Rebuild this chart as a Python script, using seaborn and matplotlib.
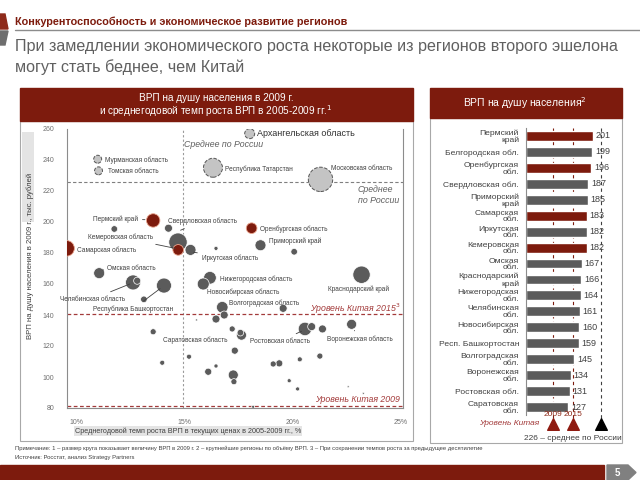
import matplotlib
matplotlib.use("Agg")
import matplotlib.pyplot as plt
import seaborn as sns
import pandas as pd
import numpy as np
from matplotlib.patches import Rectangle, Polygon

sns.set_theme(style="white")
plt.rcParams['font.family'] = ['Liberation Sans', 'DejaVu Sans']

# ---------------- data: bubble chart ----------------
regions = [
    "Мурманская", "Томская", "Архангельская", "Татарстан", "Московская",
    "Пермский", "р7", "р8", "Свердловская", "Кемеровская", "Иркутская", "р12",
    "Оренбургская", "Приморский", "р15", "Краснодарский", "Самарская", "Омская",
    "Челябинская", "р20", "Башкортостан", "р22", "Нижегородская", "Новосибирская",
    "Волгоградская", "р26", "р27", "р28", "р29", "р30", "р31", "р32", "р33", "р34",
    "р35", "р36", "р37", "Саратовская", "р38b", "р39", "р40", "р41", "р42", "р43",
    "р44", "р45", "р46", "р47", "р48", "Ростовская", "р50", "р51", "Воронежская",
]
growth = [
    10.96, 11.0, 18.0, 16.3, 21.28,
    13.53, 11.73, 14.24, 14.68, 14.69, 15.26, 16.44,
    18.09, 18.5, 20.06, 23.18, 9.52, 11.03,
    12.6, 12.79, 14.03, 13.1, 16.16, 15.85,
    16.73, 19.55, 16.44, 16.82, 15.54, 13.53, 13.95, 15.19, 16.08, 16.44,
    17.24, 17.27, 17.19, 17.62, 17.57, 17.31, 19.09, 19.37, 20.32, 21.25,
    19.83, 20.22, 22.56, 23.26, 18.16, 20.56, 20.87, 21.37, 22.72,
]
grp_per_capita = [
    240.5, 233, 257, 235, 227.5,
    201, 195.5, 196, 187, 182, 182, 183,
    196, 185, 180.8, 166, 183, 167,
    161, 162.1, 159, 150.1, 164, 160,
    145, 144.3, 137.4, 140.0, 136.8, 129.2, 109.2, 113.1, 103.4, 107.1,
    101.3, 97, 131, 127, 128.6, 117, 108.4, 108.8, 111.4, 113.5,
    97.6, 92.3, 93.7, 89.5, 80.8, 131, 132.5, 131, 134,
]
grp_total = [
    190, 190, 300, 1080, 1780,
    540, 130, 190, 1010, 340, 360, 50,
    340, 360, 130, 900, 730, 360,
    675, 150, 675, 130, 480, 430,
    400, 190, 190, 190, 12, 110, 75, 75, 150, 50,
    300, 110, 110, 300, 130, 150, 110, 150, 75, 110,
    50, 50, 12, 12, 27, 540, 190, 190, 300,
]
group = (["выше среднего"] * 5 + ["фокус", "прочие", "прочие", "прочие", "фокус", "прочие", "прочие",
          "фокус", "прочие", "прочие", "прочие", "фокус"] + ["прочие"] * 36)

russia_avg_gdp = 226
russia_avg_growth = 14.9
china_2009 = 81
china_2015 = 140.5

# ---------------- data: bar chart ----------------
bar_regions = [
    "Пермский\nкрай", "Белгородская обл.", "Оренбургская\nобл.", "Свердловская обл.",
    "Приморский\nкрай", "Самарская\nобл.", "Иркутская\nобл.", "Кемеровская\nобл.",
    "Омская\nобл.", "Краснодарский\nкрай", "Нижегородская\nобл.", "Челябинская\nобл.",
    "Новосибирская\nобл.", "Респ. Башкортостан", "Волгоградская\nобл.", "Воронежская\nобл.",
    "Ростовская обл.", "Саратовская\nобл.",
]
bar_values = [201, 199, 196, 187, 185, 183, 182, 182, 167, 166, 164, 161, 160, 159, 145, 134, 131, 127]
bar_group = ["фокус", "прочие", "фокус", "прочие", "прочие", "фокус", "прочие", "фокус",
             "прочие", "прочие", "прочие", "прочие", "прочие", "прочие", "прочие", "прочие",
             "прочие", "прочие"]

RED = "#7D1B0D"
DGRAY = "#5B5B5B"
LGRAY = "#C4C4C4"
TXT = "#404040"
CRED = "#A33A3A"

W, H = 640, 480
fig = plt.figure(figsize=(6.4, 4.8), dpi=100)


def box(x0, y0, x1, y1):
    return [x0 / W, 1 - y1 / H, (x1 - x0) / W, (y1 - y0) / H]


bg = fig.add_axes([0, 0, 1, 1], zorder=0)
bg.set_xlim(0, W)
bg.set_ylim(H, 0)
bg.axis("off")

# header
bg.add_patch(Polygon([(0, 14), (5, 14), (8, 29), (0, 29)], color="#8E2A1A"))
bg.add_patch(Polygon([(0, 31), (8, 31), (5, 45), (0, 45)], color="#6E6E6E"))
bg.text(15, 22, "Конкурентоспособность и экономическое развитие регионов", color=RED,
        fontsize=7.8, fontweight="bold", va="center", ha="left")
bg.plot([15, 640], [29.5, 29.5], color="#8C8C8C", lw=1)
bg.text(15, 47, "При замедлении экономического роста некоторые из регионов второго эшелона",
        color="#606060", fontsize=11.6, va="center", ha="left")
bg.text(15, 67, "могут стать беднее, чем Китай", color="#606060", fontsize=11.6, va="center", ha="left")

# panels
bg.add_patch(Rectangle((20, 121), 393, 320, facecolor="white", edgecolor="#A8A8A8", lw=0.8))
bg.add_patch(Rectangle((20, 88), 393, 33, color=RED))
bg.text(216, 98, "ВРП на душу населения в 2009 г.", color="white", fontsize=7.2, ha="center", va="center")
bg.text(216, 111, "и среднегодовой темп роста ВРП в 2005-2009 гг.$^1$", color="white", fontsize=7.2,
        ha="center", va="center")
bg.add_patch(Rectangle((430, 118), 192, 325, facecolor="white", edgecolor="#A8A8A8", lw=0.8))
bg.add_patch(Rectangle((430, 88), 192, 30, color=RED))
bg.text(525, 103, "ВРП на душу населения$^2$", color="white", fontsize=7.5, ha="center", va="center")

# y-label shading & axis titles
bg.add_patch(Rectangle((22, 132), 12, 90, color="#E4E4E4", lw=0))
bg.text(30, 256, "ВРП на душу населения в 2009 г., тыс. рублей", rotation=90, fontsize=5.6,
        color=TXT, ha="center", va="center")
bg.text(188, 431, "Среднегодовой темп роста ВРП в текущих ценах в 2005-2009 гг., %", fontsize=5.2,
        color=TXT, ha="center", va="center",
        bbox=dict(boxstyle="square,pad=0.15", facecolor="#E4E4E4", edgecolor="none"))
bg.text(622, 438, "226 – среднее по России", fontsize=6, color=TXT, ha="right", va="center")

# footer
bg.text(15, 448, "Примечание: 1 – размер круга показывает величину ВРП в 2009 г. 2 – крупнейшие регионы по объёму ВРП. "
        "3 – При сохранении темпов роста за предыдущее десятилетие", fontsize=4.2, color=TXT, va="center")
bg.text(15, 458, "Источник: Росстат, анализ Strategy Partners", fontsize=4.2, color=TXT, va="center")
bg.add_patch(Rectangle((0, 465), 604, 15, color=RED))
bg.add_patch(Polygon([(607, 465), (628, 465), (636, 472.5), (628, 480), (607, 480)], color="#808080"))
bg.text(617, 472.5, "5", color="white", fontsize=7, fontweight="bold", ha="center", va="center")

# ---------------- bubble chart ----------------
ax = fig.add_axes(box(67, 129, 403, 408), zorder=2)
ax.patch.set_alpha(0)
df = pd.DataFrame({"region": regions, "growth": growth, "gdp": grp_per_capita,
                   "grp": grp_total, "group": group})
df = df.sort_values("grp", ascending=False)
smax = 2000
style = {
    "прочие": dict(color=DGRAY, edgecolor="white", linewidth=0.5),
    "фокус": dict(color=RED, edgecolor="#E9A58E", linewidth=0.6),
    "выше среднего": dict(color=LGRAY, edgecolor="#555555", linewidth=0.7, linestyle="--"),
}
for g, kw in style.items():
    sub = df[df["group"] == g]
    sns.scatterplot(data=sub, x="growth", y="gdp", size="grp", sizes=(0, 0.1728 * smax),
                    size_norm=(0, smax), legend=False, ax=ax, zorder=3, **kw)

ax.set_xlim(9.54, 25.1)
ax.set_ylim(80, 260)
ax.set_xticks([10, 15, 20, 25])
ax.set_xticklabels(["10%", "15%", "20%", "25%"])
ax.set_yticks(np.arange(80, 261, 20))
ax.tick_params(axis="both", labelsize=5, colors="#707070", length=2, width=0.6, pad=6)
ax.tick_params(axis="y", pad=7)
ax.set_xlabel("")
ax.set_ylabel("")
for s in ["left", "bottom", "right"]:
    ax.spines[s].set_color("#8C8C8C")
    ax.spines[s].set_linewidth(0.8)
ax.spines["top"].set_visible(False)

ax.axhline(russia_avg_gdp, color="#7F7F7F", ls=(0, (3, 2)), lw=0.8, zorder=1)
ax.axvline(russia_avg_growth, color="#9A9A9A", ls=(0, (2, 2)), lw=0.8, zorder=1)
ax.axhline(china_2015, color=CRED, ls=(0, (3, 2)), lw=0.9, zorder=1)
ax.axhline(china_2009, color=CRED, ls=(0, (3, 2)), lw=0.9, zorder=1)

fs = 4.7
labels = [
    ("Мурманская область", 11.30, 240, "left"),
    ("Томская область", 11.44, 232.9, "left"),
    ("Республика Татарстан", 16.85, 234.2, "left"),
    ("Московская область", 21.76, 234.2, "left"),
    ("Самарская область", 10.0, 181.9, "left"),
    ("Оренбургская область", 18.47, 195.5, "left"),
    ("Приморский край", 18.89, 187.7, "left"),
    ("Нижегородская область", 16.62, 163.2, "left"),
    ("Новосибирская область", 16.02, 154.8, "left"),
    ("Волгоградская область", 17.04, 147.7, "left"),
    ("Краснодарский край", 21.62, 156.8, "left"),
    ("Саратовская область", 13.98, 123.9, "left"),
]
for t, x, y, ha in labels:
    ax.text(x, y, t, fontsize=fs, color=TXT, ha=ha, va="center", zorder=5)

lined = [
    ("Пермский край", (12.82, 201.9), (13.15, 201.5), "right"),
    ("Свердловская область", (14.21, 200.6), (14.8, 194.7), "left"),
    ("Кемеровская область", (10.51, 190.3), (14.55, 183.0), "left"),
    ("Иркутская область", (15.79, 176.8), (15.4, 180.5), "left"),
    ("Омская область", (11.39, 170.3), (11.2, 169), "left"),
    ("Челябинская область", (9.21, 150.3), (12.45, 160.0), "left"),
    ("Республика Башкортостан", (10.74, 143.9), (13.85, 157.0), "left"),
    ("Ростовская область", (18.01, 123.2), (20.4, 129.5), "left"),
    ("Воронежская область", (21.57, 124.5), (22.85, 130.0), "left"),
]
for t, xyt, xy, ha in lined:
    ax.annotate(t, xy=xy, xytext=xyt, fontsize=fs, color=TXT, ha=ha, va="center", zorder=5,
                arrowprops=dict(arrowstyle="-", color="#404040", lw=0.6, shrinkA=1, shrinkB=0))

ax.text(18.33, 256.8, "Архангельская область", fontsize=6.5, color="#303030", ha="left", va="center")
ax.text(14.95, 250.3, "Среднее по России", fontsize=6.3, color="#606060", style="italic", ha="left", va="center")
ax.text(23.0, 217.5, "Среднее\nпо России", fontsize=6.3, color="#606060", style="italic", ha="left",
        va="center", linespacing=1.3)
ax.text(25.0, 144.2, "Уровень Китая 2015$^3$", fontsize=6.3, color=CRED, style="italic", ha="right", va="center")
ax.text(24.95, 85.8, "Уровень Китая 2009", fontsize=6.3, color=CRED, style="italic", ha="right", va="center")

# ---------------- bar chart ----------------
bx = fig.add_axes(box(526, 128, 620, 415), zorder=2)
bx.patch.set_alpha(0)
bdf = pd.DataFrame({"region": bar_regions, "value": bar_values, "group": bar_group})
sns.barplot(data=bdf, x="value", y="region", hue="group", palette={"фокус": RED, "прочие": DGRAY},
            dodge=False, legend=False, width=0.62, ax=bx, orient="h", saturation=1)
bx.set_xlim(0, 282)
bx.set_ylim(17.5, -0.5)
for c in bx.containers:
    bx.bar_label(c, fmt="%d", padding=2, fontsize=6.5, color=TXT)
bx.set_xlabel("")
bx.set_ylabel("")
bx.set_xticks([])
bx.tick_params(axis="y", labelsize=6.1, colors=TXT, length=0, pad=5)
for lab in bx.get_yticklabels():
    lab.set_linespacing(0.95)
for s in ["top", "right", "bottom"]:
    bx.spines[s].set_visible(False)
bx.spines["left"].set_color("#8C8C8C")
bx.spines["left"].set_linewidth(0.8)

bx.vlines([china_2009, china_2015], -0.5, 18.0, colors=RED, linestyles=(0, (3, 3)), lw=0.8,
          clip_on=False, zorder=0)
bx.vlines([russia_avg_gdp], -0.5, 18.0, colors="#404040", linestyles=(0, (3, 3)), lw=0.8,
          clip_on=False, zorder=0)
bx.scatter([china_2009, china_2015], [18.05, 18.05], marker="^", s=70, color="#8E1A10", clip_on=False, zorder=4)
bx.scatter([russia_avg_gdp], [18.05], marker="^", s=70, color="black", clip_on=False, zorder=4)
bx.text(china_2009, 17.45, "2009", fontsize=6, color="#8E2A1A", ha="center", va="center")
bx.text(china_2015, 17.45, "2015", fontsize=6, color="#8E2A1A", ha="center", va="center")
bx.text(china_2009 - 40, 18.05, "Уровень Китая", fontsize=6, color=CRED, style="italic",
        ha="right", va="center", clip_on=False)

fig.savefig("out.png", dpi=100)
